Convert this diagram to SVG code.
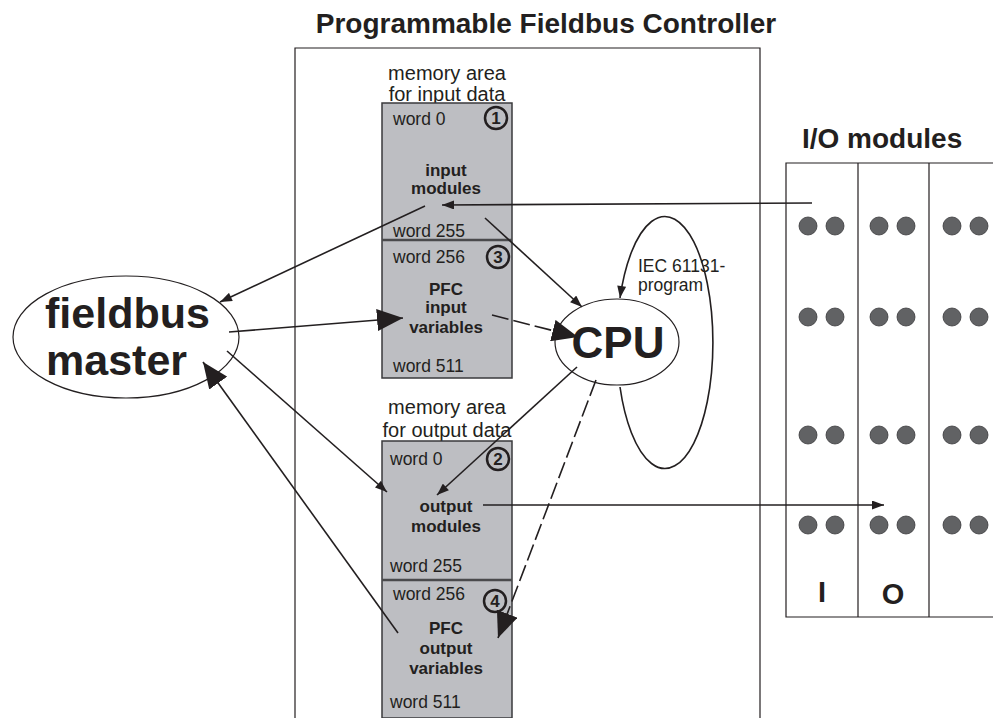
<svg xmlns="http://www.w3.org/2000/svg" width="993" height="718" viewBox="0 0 993 718">
<defs>
<style>
text{font-family:"Liberation Sans",Arial,sans-serif;fill:#231f20}
.t{font-size:28px;font-weight:bold}
.m{font-size:20px}
.w{font-size:17.5px}
.b{font-size:17px;font-weight:bold;text-anchor:middle}
.n{font-size:17px;font-weight:bold;text-anchor:middle}
.box{fill:#bdbec2;stroke:#3a3a3c;stroke-width:1.5}
.div{stroke:#4a4a4c;stroke-width:2.5}
.num{fill:none;stroke:#231f20;stroke-width:2.5}
.ln{fill:none;stroke:#231f20;stroke-width:1.6}
.ds{stroke-dasharray:17 5}
.dot{fill:#616264;stroke:#3a3a3c;stroke-width:0.8}
.fr{fill:none;stroke:#231f20;stroke-width:1.2}
</style>
<marker id="a" viewBox="0 0 12 9" refX="12" refY="4.5" markerWidth="13" markerHeight="9" markerUnits="userSpaceOnUse" orient="auto"><path d="M0,0 L12,4.5 L0,9 z" fill="#231f20"/></marker>
<marker id="B" viewBox="0 0 26 22" refX="26" refY="11" markerWidth="26" markerHeight="22" markerUnits="userSpaceOnUse" orient="auto"><path d="M0,0 L26,11 L0,22 z" fill="#231f20"/></marker>
</defs>

<text class="t" x="546" y="33" text-anchor="middle">Programmable Fieldbus Controller</text>

<g id="pfc-frame">
<path class="fr" d="M295,718 V48 H760 V718"/>
</g>

<g id="mem-input">
<text class="m" x="447" y="80" text-anchor="middle">memory area</text>
<text class="m" x="447" y="101" text-anchor="middle">for input data</text>
<rect class="box" x="382" y="103" width="130" height="275"/>
<line class="div" x1="382" y1="240" x2="512" y2="240"/>
<text class="w" x="393" y="125">word 0</text>
<circle class="num" cx="496" cy="118" r="11"/>
<text class="n" x="496" y="124">1</text>
<text class="b" x="446" y="176">input</text>
<text class="b" x="446" y="194">modules</text>
<text class="w" x="393" y="237">word 255</text>
<text class="w" x="393" y="263">word 256</text>
<circle class="num" cx="498" cy="257" r="11"/>
<text class="n" x="498" y="263">3</text>
<text class="b" x="446" y="295">PFC</text>
<text class="b" x="446" y="313">input</text>
<text class="b" x="446" y="333">variables</text>
<text class="w" x="393" y="372">word 511</text>
</g>

<g id="mem-output">
<text class="m" x="447" y="414" text-anchor="middle">memory area</text>
<text class="m" x="447" y="437" text-anchor="middle">for output data</text>
<rect class="box" x="382" y="441" width="130" height="277"/>
<line class="div" x1="382" y1="580" x2="512" y2="580"/>
<text class="w" x="390" y="465">word 0</text>
<circle class="num" cx="498" cy="459" r="11"/>
<text class="n" x="498" y="465">2</text>
<text class="b" x="446" y="512">output</text>
<text class="b" x="446" y="532">modules</text>
<text class="w" x="390" y="572">word 255</text>
<text class="w" x="393" y="600">word 256</text>
<circle class="num" cx="495" cy="601" r="11"/>
<text class="n" x="495" y="607">4</text>
<text class="b" x="446" y="634">PFC</text>
<text class="b" x="446" y="654">output</text>
<text class="b" x="446" y="674">variables</text>
<text class="w" x="390" y="708">word 511</text>
</g>

<g id="cpu">
<ellipse class="fr" cx="617" cy="342" rx="62" ry="43"/>
<text x="618" y="358" font-size="44" font-weight="bold" text-anchor="middle">CPU</text>
</g>

<g id="program-label">
<text class="w" x="638" y="272" font-size="15">IEC 61131-</text>
<text class="w" x="638" y="291" font-size="15">program</text>
</g>

<g id="fieldbus-master">
<ellipse class="fr" cx="126" cy="337" rx="113" ry="61"/>
<text x="45" y="328" font-size="43" font-weight="bold">fieldbus</text>
<text x="46" y="375" font-size="43" font-weight="bold">master</text>
</g>

<g id="io-modules">
<text class="t" x="802" y="148">I/O modules</text>
<path class="fr" d="M993,163 H786 V617 H993 M858,163 V617 M929,163 V617"/>
<g>
<circle class="dot" cx="808" cy="226" r="9"/><circle class="dot" cx="835" cy="226" r="9"/>
<circle class="dot" cx="879" cy="226" r="9"/><circle class="dot" cx="906" cy="226" r="9"/>
<circle class="dot" cx="952" cy="226" r="9"/><circle class="dot" cx="979" cy="226" r="9"/>
<circle class="dot" cx="808" cy="317" r="9"/><circle class="dot" cx="835" cy="317" r="9"/>
<circle class="dot" cx="879" cy="317" r="9"/><circle class="dot" cx="906" cy="317" r="9"/>
<circle class="dot" cx="952" cy="317" r="9"/><circle class="dot" cx="979" cy="317" r="9"/>
<circle class="dot" cx="808" cy="435" r="9"/><circle class="dot" cx="835" cy="435" r="9"/>
<circle class="dot" cx="879" cy="435" r="9"/><circle class="dot" cx="906" cy="435" r="9"/>
<circle class="dot" cx="952" cy="435" r="9"/><circle class="dot" cx="979" cy="435" r="9"/>
<circle class="dot" cx="808" cy="525" r="9"/><circle class="dot" cx="835" cy="525" r="9"/>
<circle class="dot" cx="879" cy="525" r="9"/><circle class="dot" cx="906" cy="525" r="9"/>
<circle class="dot" cx="952" cy="525" r="9"/><circle class="dot" cx="979" cy="525" r="9"/>
</g>
<text x="822" y="602" font-size="29" font-weight="bold" text-anchor="middle">I</text>
<text x="893" y="604" font-size="29" font-weight="bold" text-anchor="middle">O</text>
</g>

<g id="connectors">
<line class="ln" x1="812" y1="203" x2="442" y2="205" marker-end="url(#a)"/>
<line class="ln" x1="425" y1="206" x2="220" y2="302" marker-end="url(#a)"/>
<line class="ln" x1="485" y1="218" x2="582" y2="307" marker-end="url(#a)"/>
<line class="ln" x1="229" y1="332" x2="403" y2="318" marker-end="url(#B)"/>
<line class="ln ds" x1="492" y1="315" x2="578" y2="337" marker-end="url(#B)"/>
<line class="ln" x1="227" y1="351" x2="387" y2="492" marker-end="url(#a)"/>
<line class="ln" x1="577" y1="367" x2="437" y2="495" marker-end="url(#a)"/>
<line class="ln" x1="483" y1="505" x2="884" y2="505" marker-end="url(#a)"/>
<line class="ln" x1="398" y1="633" x2="203" y2="362" marker-end="url(#B)"/>
<line class="ln ds" x1="596" y1="380" x2="498" y2="638" marker-end="url(#B)"/>
<path class="ln" d="M620,387 A48,126 0 1 0 620,298" marker-end="url(#a)"/>
</g>
</svg>
